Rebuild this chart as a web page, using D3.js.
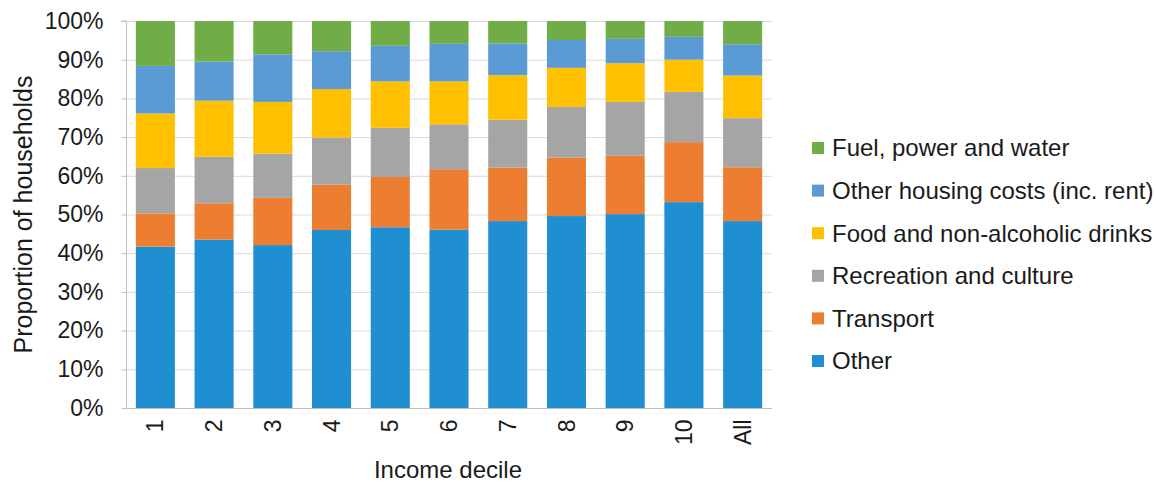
<!DOCTYPE html>
<html><head><meta charset="utf-8">
<script src="https://cdn.jsdelivr.net/npm/d3@7"></script>
<style>body{margin:0;background:#fff}svg{display:block}text{font-family:"Liberation Sans",Arial,sans-serif;fill:#1a1a1a}</style>
</head><body><svg id="c" width="1156" height="483"></svg>
<script>
const categories = ["1","2","3","4","5","6","7","8","9","10","All"];
const seriesNames = ["Other","Transport","Recreation and culture","Food and non-alcoholic drinks","Other housing costs (inc. rent)","Fuel, power and water"];
const other      = [41.7,43.5,42.1,46.0,46.7,46.1,48.3,49.6,50.1,53.2,48.3];
const transport  = [8.6, 9.4, 12.2,11.7,13.0,15.6,13.8,15.1,15.1,15.5,13.9];
const recreation = [11.7,12.0,11.4,12.2,12.7,11.6,12.4,13.1,13.9,13.0,12.7];
const food       = [14.1,14.5,13.4,12.5,12.0,11.1,11.5,10.1,10.0,8.3,11.0];
const housing    = [12.3,10.1,12.3,9.8,9.2,9.7,8.2,7.2,6.3,5.9,8.1];
const fuel       = [11.6,10.5,8.6,7.8,6.4,5.9,5.8,4.9,4.6,4.1,6.0];
const yTicks = [0,10,20,30,40,50,60,70,80,90,100];
const colors = ["#1f8fd2","#ed7d31","#a5a5a5","#ffc000","#5b9bd5","#70ad47"];

const seriesVals = [other,transport,recreation,food,housing,fuel];
const rows = categories.map((c,i)=>{const r={cat:c}; seriesNames.forEach((s,j)=>r[s]=seriesVals[j][i]); return r;});
const stack = d3.stack().keys(seriesNames)(rows);

const svg = d3.select("#c");
const L=126, R=772, T=21, B=408;
const x = d3.scaleBand().domain(categories).range([L,R]).paddingInner(0.335).paddingOuter(0.1675);
const y = d3.scaleLinear().domain([0,100]).range([B,T]);

// gridlines
svg.append("g").selectAll("line").data(yTicks.filter(t=>t>0)).join("line")
  .attr("x1",L).attr("x2",R).attr("y1",d=>y(d)+0.5).attr("y2",d=>y(d)+0.5)
  .attr("stroke","#d9d9d9").attr("stroke-width",1);

// bars
svg.append("g").selectAll("g").data(stack).join("g").attr("fill",(d,i)=>colors[i])
  .selectAll("rect").data(d=>d).join("rect")
  .attr("x",d=>x(d.data.cat)).attr("width",x.bandwidth())
  .attr("y",d=>y(d[1])).attr("height",d=>y(d[0])-y(d[1]));

// y axis
const ya = svg.append("g").attr("transform",`translate(${L+0.5},0)`)
  .call(d3.axisLeft(y).tickValues(yTicks).tickFormat(d=>d+"%").tickSize(5).tickPadding(18));
ya.select(".domain").attr("stroke","#bfbfbf").attr("d",`M-5,${T}H0V${B}`);
ya.selectAll(".tick line").attr("stroke","#bfbfbf");
ya.selectAll(".tick text").attr("font-size",23).attr("fill","#1a1a1a").attr("font-family","Liberation Sans, Arial, sans-serif");

// x axis
const xa = svg.append("g").attr("transform",`translate(0,${B+0.5})`)
  .call(d3.axisBottom(x).tickSize(0).tickPadding(0));
xa.select(".domain").attr("stroke","#bfbfbf").attr("d",`M${L},0H${R}`);
xa.selectAll(".tick text").attr("font-size",23).attr("fill","#1a1a1a").attr("font-family","Liberation Sans, Arial, sans-serif")
  .attr("text-anchor","end").attr("transform","rotate(-90)").attr("x",-11).attr("y",0).attr("dy","0.35em");

// axis titles
svg.append("text").attr("x",448).attr("y",478).attr("text-anchor","middle").attr("font-size",24).text("Income decile");
svg.append("text").attr("transform",`translate(32,${(T+B)/2}) rotate(-90)`).attr("text-anchor","middle").attr("font-size",25).text("Proportion of households");

// legend (reverse order)
const legendOrder = seriesNames.map((s,i)=>({s,c:colors[i]})).reverse();
const lg = svg.append("g").selectAll("g").data(legendOrder).join("g")
  .attr("transform",(d,i)=>`translate(812,${148+i*42.6})`);
lg.append("rect").attr("x",0).attr("y",-6).attr("width",12).attr("height",12).attr("fill",d=>d.c);
lg.append("text").attr("x",20).attr("dy","0.35em").attr("font-size",24).text(d=>d.s);
</script></body></html>
